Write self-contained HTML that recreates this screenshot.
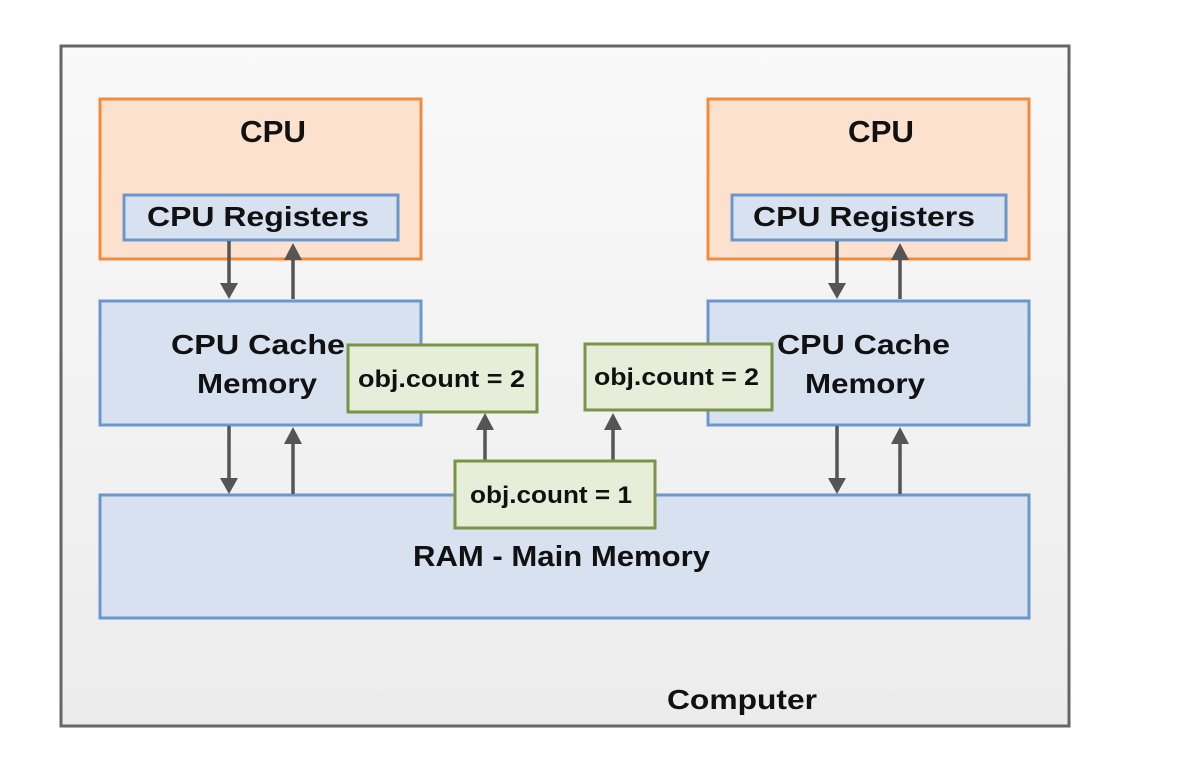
<!DOCTYPE html>
<html><head><meta charset="utf-8"><style>
html,body{margin:0;padding:0;background:#fff;}
svg{display:block;}
text{font-family:"Liberation Sans",Arial,sans-serif;font-weight:bold;fill:#111;}
</style></head><body>
<svg width="1200" height="784" viewBox="0 0 1200 784" xmlns="http://www.w3.org/2000/svg">
<defs>
<linearGradient id="bg" x1="0" y1="0" x2="0" y2="1"><stop offset="0" stop-color="#f9f9f9"/><stop offset="1" stop-color="#ececec"/></linearGradient>
</defs>
<rect x="61" y="46" width="1008" height="680" fill="url(#bg)" stroke="#666" stroke-width="3"/>
<rect x="100" y="99" width="321" height="160" fill="#fce1cf" stroke="#f18b3d" stroke-width="3"/>
<rect x="708" y="99" width="321" height="160" fill="#fce1cf" stroke="#f18b3d" stroke-width="3"/>
<text x="240" y="142" font-size="31" textLength="66" lengthAdjust="spacingAndGlyphs">CPU</text>
<text x="848" y="142" font-size="31" textLength="66" lengthAdjust="spacingAndGlyphs">CPU</text>
<rect x="124" y="195" width="274" height="45" fill="#d7e1f0" stroke="#6c97cc" stroke-width="3"/>
<rect x="732" y="195" width="274" height="45" fill="#d7e1f0" stroke="#6c97cc" stroke-width="3"/>
<text x="147" y="226" font-size="28" textLength="222" lengthAdjust="spacingAndGlyphs">CPU Registers</text>
<text x="753" y="226" font-size="28" textLength="222" lengthAdjust="spacingAndGlyphs">CPU Registers</text>
<rect x="100" y="301" width="321" height="124" fill="#d7e1f0" stroke="#6c97cc" stroke-width="3"/>
<rect x="708" y="301" width="321" height="124" fill="#d7e1f0" stroke="#6c97cc" stroke-width="3"/>
<text x="171" y="354" font-size="28" textLength="174" lengthAdjust="spacingAndGlyphs">CPU Cache</text>
<text x="197" y="393" font-size="28" textLength="120" lengthAdjust="spacingAndGlyphs">Memory</text>
<text x="777" y="354" font-size="28" textLength="173" lengthAdjust="spacingAndGlyphs">CPU Cache</text>
<text x="805" y="393" font-size="28" textLength="120" lengthAdjust="spacingAndGlyphs">Memory</text>
<rect x="100" y="495" width="929" height="123" fill="#d7e1f0" stroke="#6c97cc" stroke-width="3"/>
<text x="413" y="566" font-size="29" textLength="297" lengthAdjust="spacingAndGlyphs">RAM - Main Memory</text>
<text x="667" y="709" font-size="28" textLength="150" lengthAdjust="spacingAndGlyphs">Computer</text>
<!-- arrows -->
<g stroke="#555" stroke-width="3.5">
<line x1="229" y1="241" x2="229" y2="285"/>
<line x1="293" y1="299" x2="293" y2="258"/>
<line x1="837" y1="241" x2="837" y2="285"/>
<line x1="900" y1="299" x2="900" y2="258"/>
<line x1="229" y1="426" x2="229" y2="480"/>
<line x1="293" y1="494" x2="293" y2="442"/>
<line x1="837" y1="426" x2="837" y2="480"/>
<line x1="900" y1="494" x2="900" y2="442"/>
<line x1="485" y1="461" x2="485" y2="428"/>
<line x1="613" y1="461" x2="613" y2="428"/>
</g>
<g fill="#555">
<polygon points="220,283 238,283 229,299"/>
<polygon points="284,260 302,260 293,243"/>
<polygon points="828,283 846,283 837,299"/>
<polygon points="891,260 909,260 900,243"/>
<polygon points="220,478 238,478 229,494"/>
<polygon points="284,444 302,444 293,427"/>
<polygon points="828,478 846,478 837,494"/>
<polygon points="891,444 909,444 900,427"/>
<polygon points="476,430 494,430 485,413"/>
<polygon points="604,430 622,430 613,413"/>
</g>
<rect x="348" y="345" width="189" height="67" fill="#e6eed9" stroke="#7a9447" stroke-width="3"/>
<rect x="585" y="344" width="187" height="66" fill="#e6eed9" stroke="#7a9447" stroke-width="3"/>
<rect x="455" y="461" width="200" height="67" fill="#e6eed9" stroke="#7a9447" stroke-width="3"/>
<text x="358" y="387" font-size="24" textLength="167" lengthAdjust="spacingAndGlyphs">obj.count = 2</text>
<text x="594" y="385" font-size="24" textLength="165" lengthAdjust="spacingAndGlyphs">obj.count = 2</text>
<text x="470" y="503" font-size="24" textLength="162" lengthAdjust="spacingAndGlyphs">obj.count = 1</text>
</svg>
</body></html>
